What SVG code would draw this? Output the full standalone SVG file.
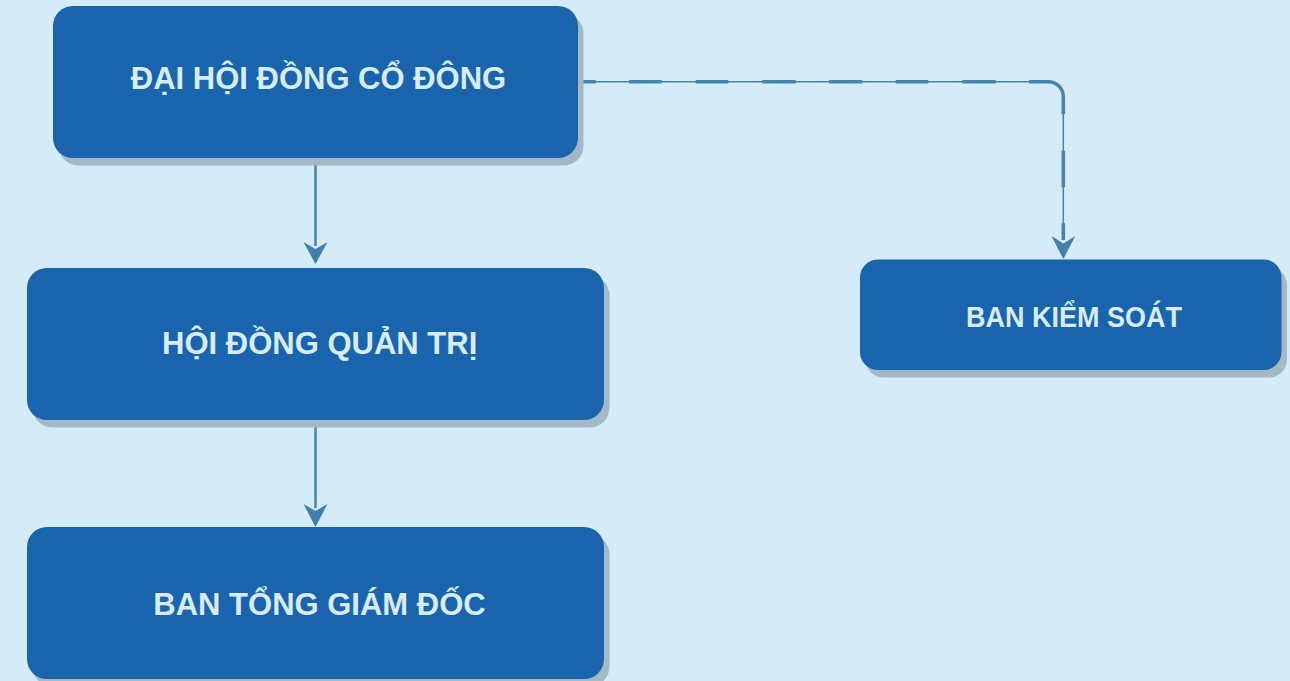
<svg xmlns="http://www.w3.org/2000/svg" width="1290" height="681" viewBox="0 0 1290 681">
<defs>
<style>
.shadow{fill:#a3b9c7}
.box{fill:#1a64ae}
.lbl{font-family:"Liberation Sans",Arial,sans-serif;font-weight:bold;font-size:31px;fill:#d8ecf7;text-anchor:middle}
.con{fill:none;stroke:#4584ae;stroke-width:2.5}
.thin{fill:none;stroke:#4584ae;stroke-width:1.5}
.dash{fill:none;stroke:#4584ae;stroke-width:3.5}
.head{fill:#4080aa}
</style>
</defs>
<rect width="1290" height="681" fill="#d5ecf8"/>
<g id="connectors">
<path class="con" d="M315.5 158 V246"/>
<polygon class="head" points="315.5,264 303.5,242 315.5,249 327.5,242"/>
<path class="con" d="M315.5 420 V508"/>
<polygon class="head" points="315.5,527 303.5,504 315.5,511 327.5,504"/>
<path class="thin" d="M578 81.7 H1048.3 A15 15 0 0 1 1063.3 96.7 V240"/>
<path class="dash" d="M578 81.7 H595.7 M629 81.7 H661.7 M695.7 81.7 H728.3 M762.3 81.7 H795.7 M829 81.7 H862.3 M895.7 81.7 H928.3 M962.3 81.7 H995.7 M1029 81.7 H1048.3 A15 15 0 0 1 1063.3 96.7 V114.3 M1063.3 150.7 V187.3 M1063.3 223.3 V240"/>
<polygon class="head" points="1063.3,259 1051.5,236 1063.3,243.5 1075.3,236"/>
</g>
<g id="dai-hoi-dong-co-dong">
<rect class="shadow" x="58.5" y="13.5" width="525" height="152" rx="20"/>
<rect class="box" x="53" y="6" width="525" height="152" rx="20"/>
<text class="lbl" x="318.5" y="89">ĐẠI HỘI ĐỒNG CỔ ĐÔNG</text>
</g>
<g id="hoi-dong-quan-tri">
<rect class="shadow" x="32.5" y="275.5" width="577" height="152" rx="20"/>
<rect class="box" x="27" y="268" width="577" height="152" rx="20"/>
<text class="lbl" x="319.7" y="354">HỘI ĐỒNG QUẢN TRỊ</text>
</g>
<g id="ban-tong-giam-doc">
<rect class="shadow" x="32.5" y="534.5" width="577" height="152" rx="20"/>
<rect class="box" x="27" y="527" width="577" height="152" rx="20"/>
<text class="lbl" x="319.5" y="615">BAN TỔNG GIÁM ĐỐC</text>
</g>
<g id="ban-kiem-soat">
<rect class="shadow" x="865.5" y="267" width="421.5" height="110.5" rx="18"/>
<rect class="box" x="860" y="259.5" width="421.5" height="110.5" rx="18"/>
<text class="lbl" x="1074" y="326.7" font-size="29" style="font-size:29px" textLength="216" lengthAdjust="spacingAndGlyphs">BAN KIỂM SOÁT</text>
</g>
</svg>
